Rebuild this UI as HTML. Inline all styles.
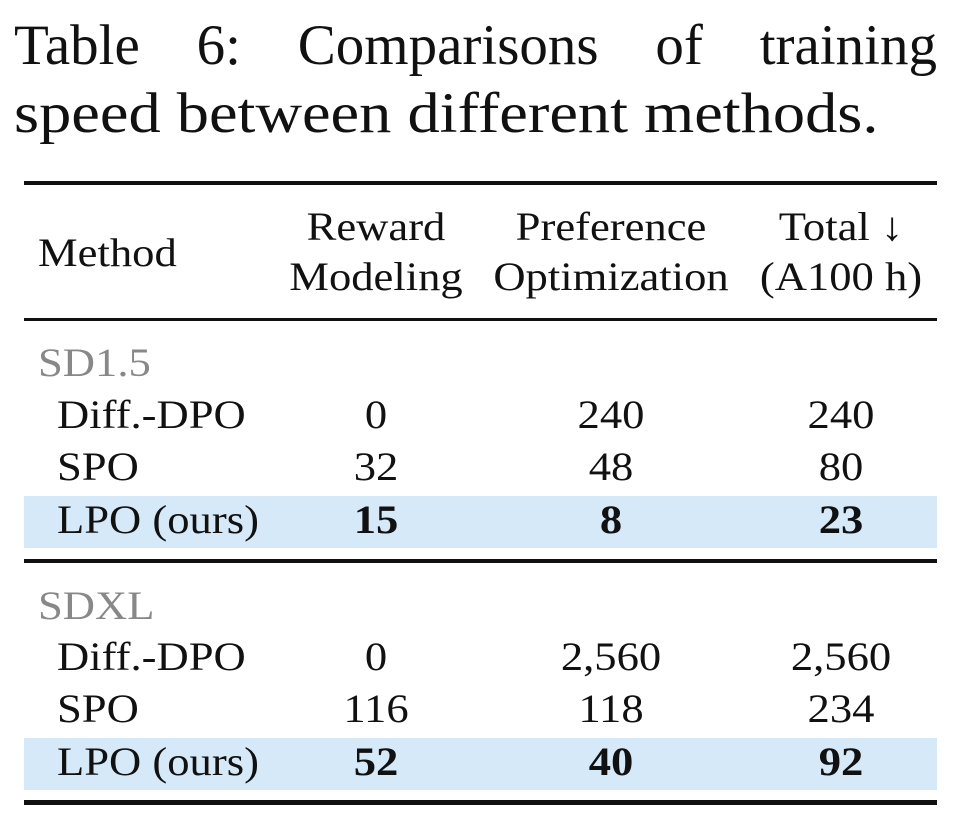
<!DOCTYPE html>
<html><head><meta charset="utf-8"><style>
body{margin:0;width:958px;height:820px;background:#fff;font-family:"Liberation Serif",serif;color:#111;position:relative;overflow:hidden}
.t{position:absolute;white-space:nowrap;font-size:40px;line-height:40px;transform:scaleX(1.115);transform-origin:left center}
.c{transform:translateX(-50%) scaleX(1.115);transform-origin:center center}
.r{position:absolute;left:24px;width:913px;background:#111}
.hl{position:absolute;left:24px;width:913px;background:#d6e9f8}
.g{color:#888}
b{font-weight:bold}
</style></head><body>
<div class="t" style="left:14px;top:16px;font-size:57px;line-height:60px;width:923px;text-align:justify;text-align-last:justify;transform:none">Table 6: Comparisons of training</div>
<div class="t" style="left:14px;top:84px;font-size:57px;line-height:60px;transform:scaleX(1.13)">speed between different methods.</div>
<div class="r" style="top:181px;height:4px"></div>
<div class="t" style="left:38px;top:233px">Method</div>
<div class="t c" style="left:376px;top:207px">Reward</div>
<div class="t c" style="left:376px;top:257px">Modeling</div>
<div class="t c" style="left:611px;top:207px">Preference</div>
<div class="t c" style="left:611px;top:257px">Optimization</div>
<div class="t c" style="left:841px;top:207px">Total ↓</div>
<div class="t c" style="left:841px;top:257px">(A100 h)</div>
<div class="r" style="top:318px;height:3px"></div>
<div class="t g" style="left:38px;top:343px">SD1.5</div>
<div class="t" style="left:57px;top:395px">Diff.-DPO</div><div class="t c" style="left:376px;top:395px">0</div><div class="t c" style="left:611px;top:395px">240</div><div class="t c" style="left:841px;top:395px">240</div>
<div class="t" style="left:57px;top:447px">SPO</div><div class="t c" style="left:376px;top:447px">32</div><div class="t c" style="left:611px;top:447px">48</div><div class="t c" style="left:841px;top:447px">80</div>
<div class="hl" style="top:496px;height:52px"></div>
<div class="t" style="left:57px;top:500px">LPO (ours)</div><div class="t c" style="left:376px;top:500px"><b>15</b></div><div class="t c" style="left:611px;top:500px"><b>8</b></div><div class="t c" style="left:841px;top:500px"><b>23</b></div>
<div class="r" style="top:559px;height:4px"></div>
<div class="t g" style="left:38px;top:586px">SDXL</div>
<div class="t" style="left:57px;top:637px">Diff.-DPO</div><div class="t c" style="left:376px;top:637px">0</div><div class="t c" style="left:611px;top:637px">2,560</div><div class="t c" style="left:841px;top:637px">2,560</div>
<div class="t" style="left:57px;top:689px">SPO</div><div class="t c" style="left:376px;top:689px">116</div><div class="t c" style="left:611px;top:689px">118</div><div class="t c" style="left:841px;top:689px">234</div>
<div class="hl" style="top:738px;height:52px"></div>
<div class="t" style="left:57px;top:742px">LPO (ours)</div><div class="t c" style="left:376px;top:742px"><b>52</b></div><div class="t c" style="left:611px;top:742px"><b>40</b></div><div class="t c" style="left:841px;top:742px"><b>92</b></div>
<div class="r" style="top:800px;height:5px"></div>
</body></html>
